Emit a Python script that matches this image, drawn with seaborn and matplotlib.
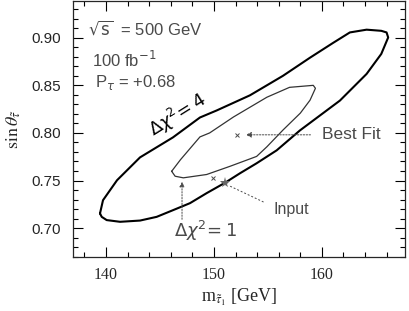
import numpy as np
import pandas as pd
import matplotlib
matplotlib.use("Agg")
import matplotlib.pyplot as plt
from matplotlib.ticker import MultipleLocator
import seaborn as sns

# contour points (m_stau in GeV, sin theta)
outer_m = [139.44, 139.60, 140.06, 141.30, 143.15, 144.69, 146.20, 147.78, 149.32, 151.02,
           152.41, 153.95, 155.81, 157.96, 161.67, 164.14, 165.50, 166.14, 165.99, 165.50,
           164.14, 162.59, 161.02, 158.89, 156.39, 153.33, 150.25, 148.70, 146.20, 143.15,
           141.02, 139.72, 139.44]
outer_s = [0.7154, 0.7118, 0.7084, 0.7066, 0.7079, 0.7118, 0.7188, 0.7262, 0.7367, 0.7476,
           0.7576, 0.7681, 0.7817, 0.8026, 0.8340, 0.8620, 0.8830, 0.9003, 0.9056, 0.9073,
           0.9085, 0.9056, 0.8945, 0.8790, 0.8600, 0.8395, 0.8236, 0.8162, 0.7953, 0.7743,
           0.7503, 0.7293, 0.7154]

inner_m = [146.08, 146.4, 147.16, 149.32, 151.48, 153.95, 154.9, 156.4, 158.0, 158.9,
           159.4, 159.2, 157.0, 154.9, 151.8, 149.6, 148.7, 146.9, 146.08]
inner_s = [0.7597, 0.7545, 0.7528, 0.7563, 0.7649, 0.7753, 0.7854, 0.8031, 0.8208, 0.8344,
           0.8469, 0.8500, 0.8479, 0.8375, 0.8167, 0.8000, 0.7958, 0.7719, 0.7597]

best_fit = (152.1, 0.798)
input_pt = (151.02, 0.7476)
near_input = (149.94, 0.7528)

sns.set_style("ticks")
plt.rcParams["font.family"] = ["Liberation Sans", "DejaVu Sans"]
plt.rcParams["mathtext.fontset"] = "stix"

fig = plt.figure(figsize=(4.09, 3.11), dpi=100)
ax = fig.add_axes([0.1785, 0.1736, 0.8115, 0.8234])

outer = pd.DataFrame({"m": outer_m, "s": outer_s})
inner = pd.DataFrame({"m": inner_m, "s": inner_s})
sns.lineplot(data=outer, x="m", y="s", sort=False, estimator=None, color="black", lw=1.5, ax=ax)
sns.lineplot(data=inner, x="m", y="s", sort=False, estimator=None, color="#333333", lw=0.9, ax=ax)

gray = "#4a4a4a"
# best fit
ax.plot(*best_fit, marker="x", ms=3, color=gray, mew=0.7)
ax.annotate("", xy=(best_fit[0] + 0.6, best_fit[1]), xytext=(159.2, best_fit[1]),
            arrowprops=dict(arrowstyle="-|>", color=gray, lw=0.7, ls=(0, (1.5, 1.5)),
                            mutation_scale=8))
ax.text(160.0, best_fit[1], "Best Fit", color=gray, fontsize=12.5, ha="left", va="center")

# input
ax.plot(*near_input, marker="x", ms=3, color=gray, mew=0.7)
ax.plot(*input_pt, marker="*", ms=8, color="#666666", mew=0)
ax.plot([151.5, 154.7], [0.7440, 0.7268], color=gray, lw=0.7, ls=(0, (2, 2)))
ax.text(155.5, 0.7198, "Input", color=gray, fontsize=11.5, ha="left", va="center")

# delta chi2 = 1
ax.annotate("", xy=(147.04, 0.7515), xytext=(147.04, 0.7063),
            arrowprops=dict(arrowstyle="-|>", color=gray, lw=0.7, ls=(0, (1.5, 1.5)),
                            mutation_scale=7))
ax.text(146.3, 0.697, r"$\Delta\chi^2\!=1$", color=gray, fontsize=13, ha="left", va="center",
        math_fontfamily="dejavusans")

# delta chi2 = 4
ax.text(146.67, 0.8188, r"$\Delta\chi^2\!=4$", color="black", fontsize=13, ha="center",
        va="center", rotation=32, math_fontfamily="dejavusans")

# header text
ax.text(138.3, 0.9094, r"$\sqrt{\rm s}$  = 500 GeV", color=gray, fontsize=12, ha="left",
        va="center", math_fontfamily="dejavusans")
ax.text(138.7, 0.877, r"100 fb$^{-1}$", color=gray, fontsize=12, ha="left", va="center",
        math_fontfamily="dejavusans")
ax.text(139.0, 0.853, r"P$_{\tau}$ = +0.68", color=gray, fontsize=12, ha="left", va="center",
        math_fontfamily="dejavusans")

ax.set_xlim(136.94, 167.69)
ax.set_ylim(0.6696, 0.9387)
ax.xaxis.set_major_locator(MultipleLocator(10))
ax.xaxis.set_minor_locator(MultipleLocator(2))
ax.yaxis.set_major_locator(MultipleLocator(0.05))
ax.yaxis.set_minor_locator(MultipleLocator(0.01))
ax.yaxis.set_major_formatter(matplotlib.ticker.FormatStrFormatter("%.2f"))
ax.tick_params(which="both", direction="in", top=True, right=True, width=0.8, color="black")
ax.tick_params(which="major", length=7.5)
ax.tick_params(which="minor", length=3.5)
ax.tick_params(axis="y", labelsize=11, pad=9)
ax.tick_params(axis="x", labelsize=11.5, pad=7)
for lab in ax.get_xticklabels():
    lab.set_fontfamily("Liberation Serif")
for sp in ax.spines.values():
    sp.set_linewidth(0.9)

ax.set_xlabel(r"m$_{\tilde{\tau}_1}$ [GeV]", fontsize=13, family="Liberation Serif", labelpad=3)
ax.set_ylabel(r"$\sin\theta_{\tilde{\tau}}$", fontsize=13, family="Liberation Serif", labelpad=6)

fig.savefig("out.png", dpi=100)
